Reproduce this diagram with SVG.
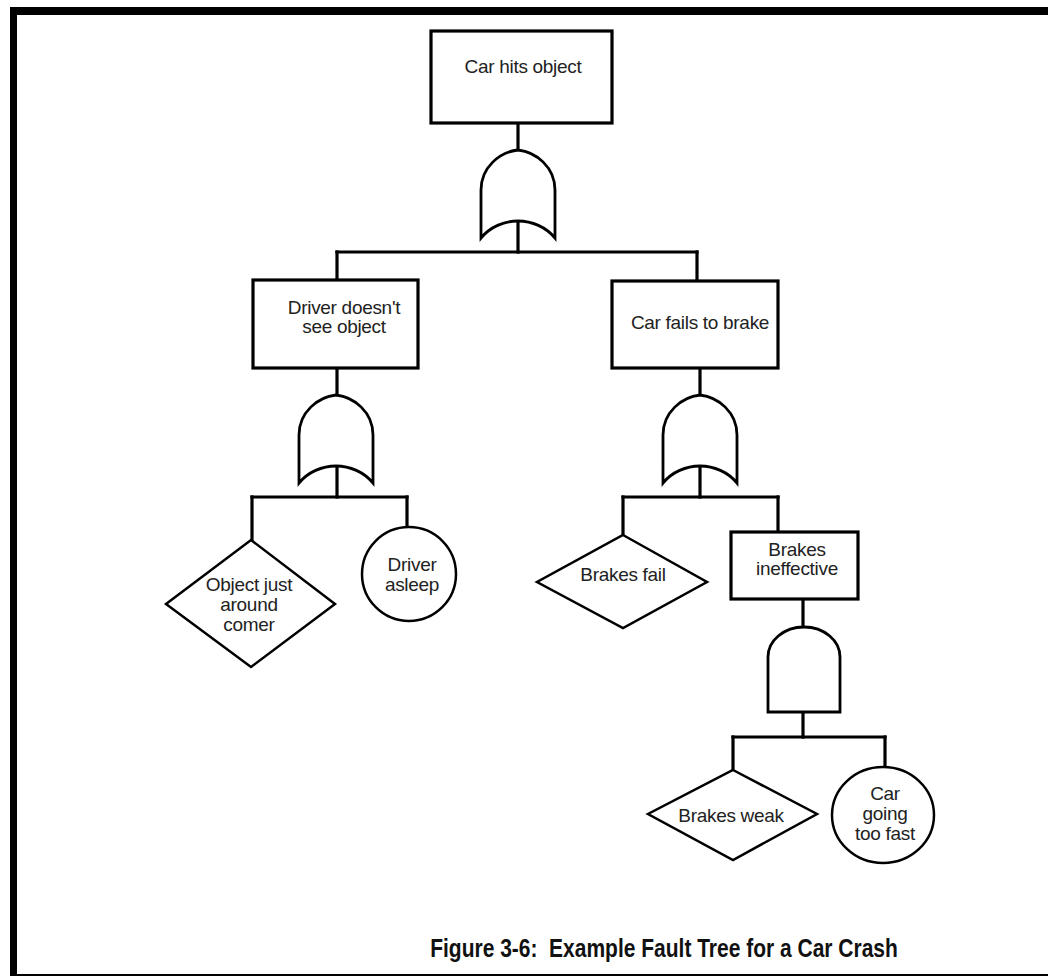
<svg xmlns="http://www.w3.org/2000/svg" xmlns:xlink="http://www.w3.org/1999/xlink" width="1048" height="976" viewBox="0 0 1048 976">
<style>
.box{fill:#fff;stroke:#000;stroke-width:3.2}
.shape{fill:#fff;stroke:#000;stroke-width:2.5}
.gate{fill:#fff;stroke:#000;stroke-width:2.8;stroke-linejoin:miter}
.conn line{stroke:#000;stroke-width:3.2;stroke-linecap:square}
text{font-family:"Liberation Sans",Arial,sans-serif;font-size:19px;fill:#222;text-anchor:middle;letter-spacing:-0.3px}
.cap{font-weight:bold;font-size:21px;fill:#111;letter-spacing:0}
</style>
<defs>
<path id="orgate" d="M-37,88 L-37,40 C-37,17 -18,2 0,0 C18,2 37,17 37,40 L37,88 C28,77 14,71 0,71 C-14,71 -28,77 -37,88 Z"/>
<path id="andgate" d="M-36,85 L-36,30 A36,30 0 0 1 36,30 L36,85 Z"/>
</defs>
<rect width="1048" height="976" fill="#fff"/>
<g id="frame">
<rect x="10" y="7" width="1038" height="8" fill="#000"/>
<rect x="10" y="7" width="7" height="969" fill="#000"/>
<rect x="10" y="974" width="1038" height="2" fill="#000"/>
</g>
<g id="connectors" class="conn">
<line x1="518" y1="123" x2="518" y2="150"/>
<line x1="518" y1="221" x2="518" y2="252"/>
<line x1="337" y1="252" x2="697" y2="252"/>
<line x1="337" y1="252" x2="337" y2="280"/>
<line x1="697" y1="252" x2="697" y2="281"/>
<line x1="337" y1="368" x2="337" y2="395"/>
<line x1="337" y1="467" x2="337" y2="497"/>
<line x1="252" y1="497" x2="407" y2="497"/>
<line x1="252" y1="497" x2="252" y2="540"/>
<line x1="407" y1="497" x2="407" y2="527"/>
<line x1="700" y1="368" x2="700" y2="395"/>
<line x1="700" y1="467" x2="700" y2="497"/>
<line x1="623" y1="497" x2="778" y2="497"/>
<line x1="623" y1="497" x2="623" y2="535"/>
<line x1="778" y1="497" x2="778" y2="532"/>
<line x1="803" y1="599" x2="803" y2="627"/>
<line x1="803" y1="712" x2="803" y2="737"/>
<line x1="733" y1="737" x2="885" y2="737"/>
<line x1="733" y1="737" x2="733" y2="770"/>
<line x1="885" y1="737" x2="885" y2="768"/>
</g>
<g id="n-car-hits-object">
<rect class="box" x="431" y="31" width="181" height="92"/>
<text x="523" y="73">Car hits object</text>
</g>
<g id="g-or-top"><use href="#orgate" class="gate" transform="translate(518,150)"/></g>
<g id="n-driver-doesnt-see">
<rect class="box" x="253" y="280" width="165" height="88"/>
<text x="344" y="314">Driver doesn't</text>
<text x="344" y="333">see object</text>
</g>
<g id="n-car-fails-to-brake">
<rect class="box" x="612" y="281" width="166" height="87"/>
<text x="700" y="329">Car fails to brake</text>
</g>
<g id="g-or-left"><use href="#orgate" class="gate" transform="translate(336,395)"/></g>
<g id="g-or-right"><use href="#orgate" class="gate" transform="translate(700,395)"/></g>
<g id="n-object-around-corner">
<polygon class="shape" points="251,540 335,604 251,667 166,604"/>
<text x="249" y="591">Object just</text>
<text x="249" y="611">around</text>
<text x="249" y="631">comer</text>
</g>
<g id="n-driver-asleep">
<circle class="shape" cx="409" cy="574" r="47"/>
<text x="412" y="571">Driver</text>
<text x="412" y="591">asleep</text>
</g>
<g id="n-brakes-fail">
<polygon class="shape" points="623,535 707,582 623,628 537,582"/>
<text x="623" y="581">Brakes fail</text>
</g>
<g id="n-brakes-ineffective">
<rect class="box" x="731" y="532" width="127" height="67"/>
<text x="797" y="556">Brakes</text>
<text x="797" y="575">ineffective</text>
</g>
<g id="g-and"><use href="#andgate" class="gate" transform="translate(804,627)"/></g>
<g id="n-brakes-weak">
<polygon class="shape" points="733,770 817,814 733,860 648,814"/>
<text x="731" y="822">Brakes weak</text>
</g>
<g id="n-car-going-too-fast">
<ellipse class="shape" cx="883" cy="815" rx="51" ry="48"/>
<text x="885" y="800">Car</text>
<text x="885" y="820">going</text>
<text x="885" y="840">too fast</text>
</g>
<g id="caption">
<text class="cap" transform="translate(664,957) scale(1,1.22)" x="0" y="0" xml:space="preserve">Figure 3-6:  Example Fault Tree for a Car Crash</text>
</g>
</svg>
